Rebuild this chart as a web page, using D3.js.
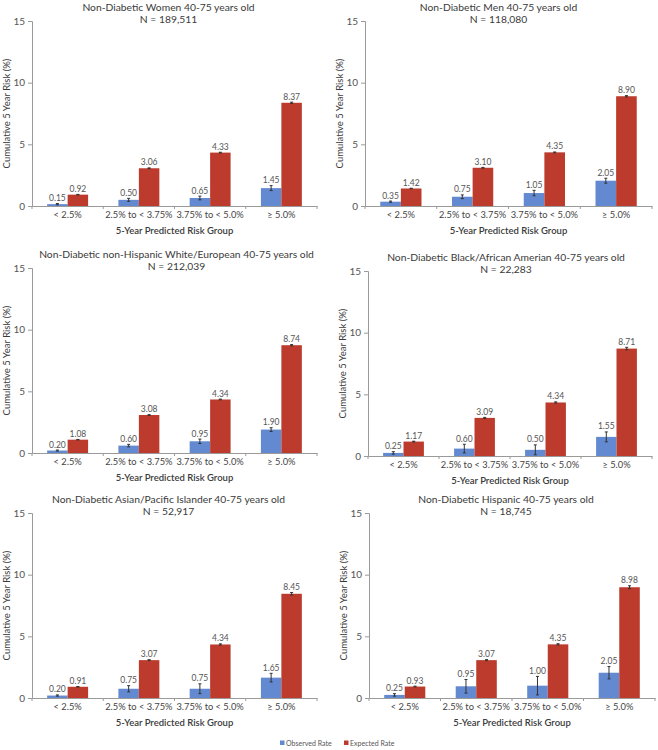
<!DOCTYPE html>
<html>
<head>
<meta charset="utf-8">
<title>Observed vs Expected 5 Year Risk</title>
<script src="https://cdn.jsdelivr.net/npm/d3@7"></script>
<style>
body{ margin:0; background:#fff; }
svg text{ font-family: Lato, "Noto Sans", sans-serif; fill:#3a3a3a; }
</style>
</head>
<body>
<svg id="chart" width="658" height="750"></svg>
<script>
// data
var categories = ["< 2.5%", "2.5% to < 3.75%", "3.75% to < 5.0%", "\u2265 5.0%"];
var titles = [
    "Non-Diabetic Women 40-75 years old",
    "Non-Diabetic Men 40-75 years old",
    "Non-Diabetic non-Hispanic White/European 40-75 years old",
    "Non-Diabetic Black/African Amerian 40-75 years old",
    "Non-Diabetic Asian/Pacific Islander 40-75 years old",
    "Non-Diabetic Hispanic 40-75 years old"
];
var sampleSizes = ["189,511", "118,080", "212,039", "22,283", "52,917", "18,745"];
var observed = [
    [0.15, 0.50, 0.65, 1.45],
    [0.35, 0.75, 1.05, 2.05],
    [0.20, 0.60, 0.95, 1.90],
    [0.25, 0.60, 0.50, 1.55],
    [0.20, 0.75, 0.75, 1.65],
    [0.25, 0.95, 1.00, 2.05]
];
var expected = [
    [0.92, 3.06, 4.33, 8.37],
    [1.42, 3.10, 4.35, 8.90],
    [1.08, 3.08, 4.34, 8.74],
    [1.17, 3.09, 4.34, 8.71],
    [0.91, 3.07, 4.34, 8.45],
    [0.93, 3.07, 4.35, 8.98]
];
// half widths of the error bars (estimated)
var observedErr = [
    [0.05, 0.12, 0.15, 0.20],
    [0.05, 0.15, 0.22, 0.20],
    [0.04, 0.10, 0.18, 0.15],
    [0.10, 0.35, 0.40, 0.40],
    [0.05, 0.25, 0.40, 0.35],
    [0.10, 0.55, 0.75, 0.50]
];
var expectedErr = [
    [0.02, 0.03, 0.03, 0.05],
    [0.02, 0.03, 0.03, 0.05],
    [0.02, 0.03, 0.03, 0.05],
    [0.03, 0.04, 0.05, 0.10],
    [0.02, 0.04, 0.05, 0.10],
    [0.03, 0.04, 0.05, 0.12]
];
var yTicks = [0, 5, 10, 15];
var seriesNames = ["Observed Rate", "Expected Rate"];
var seriesColors = ["#6389d1", "#bd3b2c"];

// plot boxes
var panels = [
    {x0: 32,  x1: 317, top: 21,  bot: 206, tdx: -6},
    {x0: 365, x1: 652, top: 21,  bot: 206, tdx: -10},
    {x0: 32,  x1: 317, top: 268, bot: 453, tdx: 2},
    {x0: 368, x1: 652, top: 271, bot: 456, tdx: -4},
    {x0: 32,  x1: 317, top: 513, bot: 698, tdx: -6},
    {x0: 369, x1: 655, top: 513, bot: 698, tdx: -6}
];

var svg = d3.select("#chart");
var axisColor = "#9a9a9a";

function drawPanel(i){
    var p = panels[i];
    var g = svg.append("g");

    var x = d3.scaleBand().domain(categories).range([p.x0, p.x1]).padding(0);
    var xs = d3.scaleBand().domain([0, 1]).range([0, x.bandwidth()])
        .paddingInner(0).paddingOuter(0.74);
    var y = d3.scaleLinear().domain([0, 15]).range([p.bot, p.top]);

    // y axis
    var yAxis = d3.axisLeft(y).tickValues(yTicks).tickSize(4).tickPadding(3);
    var ya = g.append("g").attr("transform", "translate(" + p.x0 + ",0)").call(yAxis);
    ya.select(".domain").attr("stroke", axisColor);
    ya.selectAll(".tick line").attr("stroke", axisColor);
    ya.selectAll(".tick text").style("font-size", "10px").style("fill", "#555")
        .attr("font-family", null);

    // bars
    var rows = categories.map(function(c, k){
        return {cat: c, vals: [observed[i][k], expected[i][k]],
                errs: [observedErr[i][k], expectedErr[i][k]]};
    });
    var grp = g.selectAll("g.cat").data(rows).enter().append("g")
        .attr("transform", function(d){ return "translate(" + x(d.cat) + ",0)"; });

    var bars = grp.selectAll("g.bar").data(function(d){
        return d.vals.map(function(v, s){ return {s: s, v: v, e: d.errs[s]}; });
    }).enter().append("g");

    bars.append("rect")
        .attr("x", function(d){ return xs(d.s); })
        .attr("width", xs.bandwidth())
        .attr("y", function(d){ return y(d.v); })
        .attr("height", function(d){ return p.bot - y(d.v); })
        .attr("fill", function(d){ return seriesColors[d.s]; });

    // error bars
    var cx = function(d){ return xs(d.s) + xs.bandwidth() / 2; };
    bars.append("line")
        .attr("x1", cx).attr("x2", cx)
        .attr("y1", function(d){ return y(d.v - d.e); })
        .attr("y2", function(d){ return y(d.v + d.e); })
        .attr("stroke", "#333").attr("stroke-width", 1);
    [-1, 1].forEach(function(sign){
        bars.append("line")
            .attr("x1", function(d){ return cx(d) - 1.5; })
            .attr("x2", function(d){ return cx(d) + 1.5; })
            .attr("y1", function(d){ return y(d.v + sign * d.e); })
            .attr("y2", function(d){ return y(d.v + sign * d.e); })
            .attr("stroke", "#333").attr("stroke-width", 1);
    });

    // value labels
    bars.append("text")
        .attr("x", cx)
        .attr("y", function(d){ return y(d.v + d.e) - 2.5; })
        .attr("text-anchor", "middle")
        .style("font-size", "8.5px").style("fill", "#555")
        .text(function(d){ return d.v.toFixed(2); });

    // x axis
    var xAxis = d3.axisBottom(x).tickSize(0).tickPadding(5);
    var xa = g.append("g").attr("transform", "translate(0," + p.bot + ")").call(xAxis);
    xa.select(".domain").attr("stroke", axisColor);
    xa.selectAll(".tick text").style("font-size", "9.3px").style("fill", "#444")
        .attr("font-family", null);
    // boundary ticks
    var bounds = categories.map(function(c){ return x(c); }).concat([p.x1]);
    g.selectAll("line.bt").data(bounds).enter().append("line")
        .attr("x1", function(d){ return d; }).attr("x2", function(d){ return d; })
        .attr("y1", p.bot).attr("y2", p.bot + 3)
        .attr("stroke", axisColor);

    // titles
    var tx = (p.x0 + p.x1) / 2 + p.tdx;
    g.append("text").attr("x", tx).attr("y", p.top - 10)
        .attr("text-anchor", "middle").style("font-size", "10.3px")
        .text(titles[i]);
    g.append("text").attr("x", tx).attr("y", p.top + 2)
        .attr("text-anchor", "middle").style("font-size", "10.3px")
        .text("N = " + sampleSizes[i]);

    g.append("text")
        .attr("x", (p.x0 + p.x1) / 2).attr("y", p.bot + 28)
        .attr("text-anchor", "middle").style("font-size", "9.5px").style("font-weight", "600")
        .text("5-Year Predicted Risk Group");

    g.append("text")
        .attr("transform", "translate(" + (p.x0 - 22) + "," + ((p.top + p.bot) / 2) + ") rotate(-90)")
        .attr("text-anchor", "middle").style("font-size", "9.5px")
        .text("Cumulative 5 Year Risk (%)");
}

for (var i = 0; i < panels.length; i++) drawPanel(i);

// legend
var legendX = [280, 344];
var lg = svg.append("g").selectAll("g").data(seriesNames).enter().append("g")
    .attr("transform", function(d, k){ return "translate(" + legendX[k] + ",743)"; });
lg.append("rect").attr("x", 0).attr("y", -2.5).attr("width", 4.5).attr("height", 4.5)
    .attr("fill", function(d, k){ return seriesColors[k]; });
lg.append("text").attr("x", 6).attr("y", 2.5)
    .style("font-size", "7px").style("fill", "#555")
    .text(function(d){ return d; });
</script>
</body>
</html>
